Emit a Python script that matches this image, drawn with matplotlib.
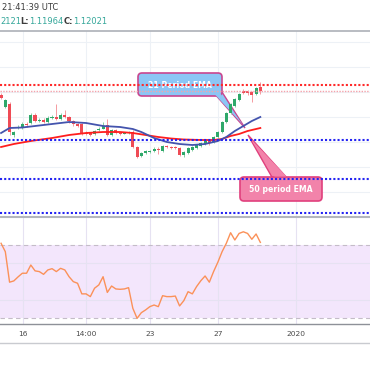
import matplotlib
matplotlib.use('Agg')
import matplotlib.pyplot as plt
import matplotlib.transforms as mtransforms
from matplotlib.patches import FancyBboxPatch, Polygon
from matplotlib.lines import Line2D
import numpy as np

# ---------------- data (EUR/USD, 4H candles) ----------------
opens = [1.1194, 1.1170, 1.1176, 1.1114, 1.1128, 1.1128, 1.1136, 1.1138, 1.1154, 1.1142,
         1.1144, 1.1140, 1.1148, 1.1150, 1.1146, 1.1154, 1.1150, 1.1142, 1.1136, 1.1136,
         1.1118, 1.1118, 1.1116, 1.1124, 1.1127, 1.1134, 1.1114, 1.1124, 1.1118, 1.1117,
         1.1118, 1.1120, 1.1090, 1.1072, 1.1078, 1.1080, 1.1082, 1.1086, 1.1082, 1.1092,
         1.1090, 1.1090, 1.1088, 1.1074, 1.1078, 1.1084, 1.1088, 1.1092, 1.1096, 1.1102,
         1.1100, 1.1110, 1.1120, 1.1140, 1.1158, 1.1172, 1.1184, 1.1202, 1.1202, 1.1200,
         1.1196, 1.1210]
closes = [1.1188, 1.1184, 1.1120, 1.1120, 1.1130, 1.1136, 1.1134, 1.1154, 1.1142, 1.1144,
          1.1140, 1.1148, 1.1150, 1.1146, 1.1154, 1.1150, 1.1142, 1.1136, 1.1133, 1.1118,
          1.1116, 1.1115, 1.1122, 1.1127, 1.1132, 1.1114, 1.1124, 1.1118, 1.1117, 1.1118,
          1.1119, 1.1090, 1.1070, 1.1078, 1.1081, 1.1082, 1.1086, 1.1084, 1.1092, 1.1090,
          1.1088, 1.1089, 1.1074, 1.1080, 1.1088, 1.1090, 1.1094, 1.1098, 1.1102, 1.1098,
          1.1110, 1.1120, 1.1140, 1.1158, 1.1176, 1.1186, 1.1196, 1.1198, 1.1198, 1.1194,
          1.1208, 1.12021]
highs = [1.1198, 1.1186, 1.1180, 1.1122, 1.1134, 1.1140, 1.1140, 1.1158, 1.1158, 1.1148,
         1.1148, 1.1152, 1.1154, 1.1176, 1.1158, 1.1164, 1.1152, 1.1144, 1.1138, 1.1138,
         1.1122, 1.1120, 1.1124, 1.1130, 1.1140, 1.1146, 1.1126, 1.1126, 1.1120, 1.1120,
         1.1122, 1.1124, 1.1092, 1.1080, 1.1084, 1.1084, 1.1090, 1.1090, 1.1094, 1.1094,
         1.1092, 1.1092, 1.1090, 1.1082, 1.1090, 1.1092, 1.1096, 1.1100, 1.1104, 1.1104,
         1.1112, 1.1122, 1.1142, 1.1160, 1.1178, 1.1188, 1.1198, 1.1206, 1.1204, 1.1202,
         1.1210, 1.1220]
lows = [1.1186, 1.1168, 1.1114, 1.1110, 1.1126, 1.1126, 1.1130, 1.1136, 1.1140, 1.1140,
        1.1138, 1.1138, 1.1146, 1.1144, 1.1144, 1.1148, 1.1138, 1.1132, 1.1130, 1.1114,
        1.1114, 1.1112, 1.1114, 1.1122, 1.1126, 1.1112, 1.1112, 1.1116, 1.1114, 1.1116,
        1.1116, 1.1088, 1.1068, 1.1070, 1.1076, 1.1078, 1.1080, 1.1076, 1.1080, 1.1088,
        1.1086, 1.1086, 1.1072, 1.1070, 1.1076, 1.1082, 1.1086, 1.1090, 1.1094, 1.1094,
        1.1098, 1.1108, 1.1118, 1.1138, 1.1156, 1.1170, 1.1182, 1.1196, 1.1194, 1.1180,
        1.1194, 1.1196]

# EMA readings (candle index, price)
ema21_idx = [0, 2, 5, 8, 12, 16, 20, 24, 28, 31, 33, 36, 39, 42, 45, 48, 51, 53, 55, 57, 59, 61]
ema21_val = [1.1118, 1.1128, 1.1129, 1.1132, 1.1136, 1.1140, 1.1138, 1.1132, 1.1130, 1.1126,
             1.1120, 1.1108, 1.1100, 1.1096, 1.1094, 1.1096, 1.1102, 1.1110, 1.1122, 1.1132,
             1.1142, 1.1150]
ema50_idx = [0, 3, 7, 12, 16, 20, 24, 28, 31, 34, 37, 40, 43, 47, 50, 52, 54, 56, 58, 61]
ema50_val = [1.1090, 1.1096, 1.1102, 1.1108, 1.1114, 1.1118, 1.1120, 1.1120, 1.1118, 1.1114,
             1.1110, 1.1107, 1.1105, 1.1104, 1.1104, 1.1106, 1.1112, 1.1116, 1.1122, 1.1128]

rsi = [70.9, 66.3, 49.6, 50.3, 52.5, 54.5, 54.5, 59.0, 55.8, 55.4,
       53.9, 56.3, 57.0, 55.4, 57.2, 56.3, 52.6, 49.9, 49.0, 43.2,
       43.2, 41.7, 46.3, 48.1, 52.6, 44.0, 47.5, 45.9, 45.7, 45.9,
       46.6, 35.3, 29.8, 32.9, 34.4, 36.2, 37.1, 36.2, 42.2, 41.7,
       41.7, 42.0, 36.6, 39.5, 44.4, 43.2, 47.2, 50.4, 53.0, 49.6,
       55.4, 60.5, 66.3, 70.9, 76.7, 72.7, 76.3, 77.2, 76.3, 73.1,
       76.0, 71.4]

resistance_levels = [1.1214]
last_price = 1.12021
support_levels = [1.1104, 1.1026, 1.0958]
price_grid = [1.100, 1.105, 1.110, 1.115, 1.120, 1.125, 1.130]
rsi_band = (30, 70)
rsi_grid = [40, 60]

tick_labels = ['16', '14:00', '23', '27', '2020']
tick_pos = [5.2, 20.0, 35.0, 51.0, 69.4]

header_time = '21:41:39 UTC'
header_parts = [('2121', 'val'), ('L:', 'lab'), ('1.11964', 'val'), ('C:', 'lab'), ('1.12021', 'val')]

label21 = '21 Period EMA'
label50 = '50 period EMA'

# ---------------- figure ----------------
W = H = 370
fig = plt.figure(figsize=(3.7, 3.7), dpi=100)
fig.patch.set_facecolor('white')
px = mtransforms.Affine2D().scale(1 / W, -1 / H).translate(0, 1) + fig.transFigure

ax = fig.add_axes([0, 1 - 217 / H, 1, 186 / H])
rx = fig.add_axes([0, 1 - 324 / H, 1, 107 / H], sharex=ax)

GRID = '#edf1f6'
n = len(opens)
x = np.arange(n)

for a in (ax, rx):
    for s in a.spines.values():
        s.set_visible(False)
    a.set_facecolor('white')

ax.set_xlim(-0.25, 86.8)
ax.set_ylim(1.0950, 1.1322)
ax.set_yticks(price_grid)
ax.set_xticks(tick_pos)
ax.grid(True, color=GRID, lw=0.8, zorder=0)
ax.tick_params(left=False, bottom=False, labelleft=False, labelbottom=False)
ax.set_axisbelow(True)

# candles
up_c, dn_c = '#2fa86a', '#ef4b55'
up_w, dn_w = '#86cfa4', '#f59aa0'
for i in range(n):
    o, c, h, l = opens[i], closes[i], highs[i], lows[i]
    up = c >= o
    ax.vlines(x[i], l, h, color=up_w if up else dn_w, lw=0.7, zorder=3)
    body = max(abs(c - o), 0.00008)
    ax.bar(x[i], body, bottom=min(o, c), width=0.74,
           color=up_c if up else dn_c, lw=0, zorder=3.5)

ax.plot(ema50_idx, ema50_val, color='#ff1e1e', lw=1.3, zorder=4)
ax.plot(ema21_idx, ema21_val, color='#4454ad', lw=1.3, zorder=4.1)

# callouts (pixel coordinates of the picture)
z = 2.5
blue_fill, blue_edge = '#8cc6f5', '#c9468f'
ax.add_patch(Polygon([(213, 92), (222, 92), (245, 128)], closed=True, transform=px,
                     facecolor=blue_fill, edgecolor=blue_edge, lw=1.0, zorder=z))
ax.add_patch(FancyBboxPatch((138, 73), 84, 23, boxstyle='round,pad=0,rounding_size=4',
                            transform=px, facecolor=blue_fill, edgecolor=blue_edge, lw=1.2, zorder=z + 0.01))
ax.add_patch(Polygon([(214.5, 94), (220.8, 94), (243, 125)], closed=True, transform=px,
                     facecolor=blue_fill, edgecolor='none', zorder=z + 0.02))
ax.text(180, 85, label21, transform=px, color='white', fontsize=5.6, fontweight='bold',
        ha='center', va='center', zorder=z + 0.03)

pink_fill, pink_edge = '#f283aa', '#e0407d'
ax.add_patch(Polygon([(273, 179), (288, 179), (248, 135)], closed=True, transform=px,
                     facecolor=pink_fill, edgecolor=pink_edge, lw=1.0, zorder=z))
ax.add_patch(FancyBboxPatch((240, 177), 82, 24, boxstyle='round,pad=0,rounding_size=4',
                            transform=px, facecolor=pink_fill, edgecolor=pink_edge, lw=1.2, zorder=z + 0.01))
ax.add_patch(Polygon([(274.5, 176.5), (286.5, 176.5), (250, 138)], closed=True, transform=px,
                     facecolor=pink_fill, edgecolor='none', zorder=z + 0.02))
ax.text(281, 189.5, label50, transform=px, color='white', fontsize=5.6, fontweight='bold',
        ha='center', va='center', zorder=z + 0.03)

# horizontal levels
for lv in resistance_levels:
    ax.axhline(lv, color='#ff2a2a', lw=1.5, ls=(0, (1, 1)), zorder=5)
ax.axhline(last_price, color='#f4a3ab', lw=1.0, ls=(0, (1, 1)), zorder=5)
for lv in support_levels:
    ax.axhline(lv, color='#2424f2', lw=1.5, ls=(0, (1, 1)), zorder=5)

# RSI pane
rx.set_ylim(26.7, 85.3)
rx.set_yticks(rsi_grid)
rx.set_xticks(tick_pos, tick_labels)
rx.grid(True, color='#e6e2f2', lw=0.8, zorder=0)
rx.set_axisbelow(True)
rx.axhspan(rsi_band[0], rsi_band[1], color='#f3e6fc', lw=0, zorder=0.5)
for lv in rsi_band:
    rx.axhline(lv, color='#c4bcc8', lw=0.8, ls=(0, (4, 3)), zorder=1)
rx.plot(x, rsi, color='#fb9159', lw=1.0, zorder=3)
rx.tick_params(left=False, labelleft=False, bottom=False, length=0, pad=5.0,
               labelsize=5.4, labelcolor='#4a4a4a')

# separators
for yy, col, lw in [(31, '#b3b6bd', 1.3), (217, '#b3b6bd', 1.5), (324, '#8e9198', 1.0), (343, '#c9cbd0', 1.0)]:
    fig.add_artist(Line2D([0, W], [yy, yy], transform=px, color=col, lw=lw))

# header
fig.text(1.5, 8, header_time, transform=px, fontsize=6.0, color='#3c3c3c', va='center', ha='left')
xpos = [0, 20, 29, 64, 73]
for (t, kind), xp in zip(header_parts, xpos):
    fig.text(xp, 21, t, transform=px, fontsize=6.0, va='center', ha='left',
             color='#35a79a' if kind == 'val' else '#3c3c3c',
             fontweight='bold' if kind == 'lab' else 'normal')

fig.savefig('out.png', dpi=100, facecolor='white')
